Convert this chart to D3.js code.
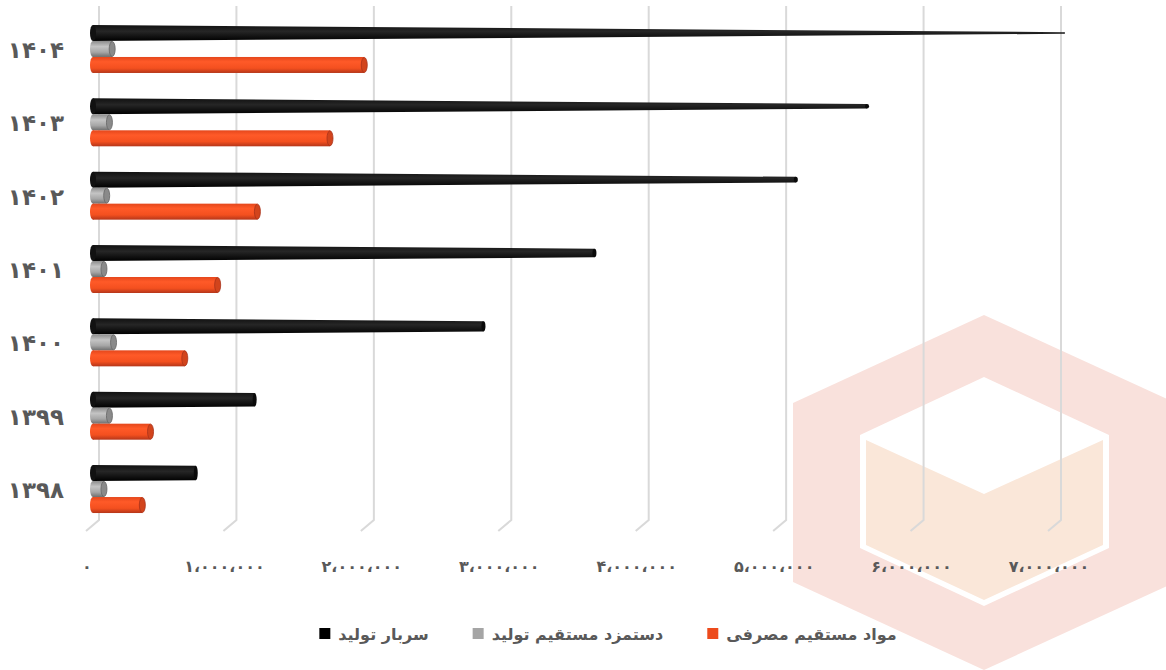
<!DOCTYPE html>
<html>
<head>
<meta charset="utf-8">
<script src="https://cdn.jsdelivr.net/npm/d3@7"></script>
<style>
  body { margin: 0; background: #fff; }
  svg { display: block; font-family: "DejaVu Sans", sans-serif; }
</style>
</head>
<body>
<svg width="1166" height="670"></svg>
<script>
var years = ["۱۴۰۴", "۱۴۰۳", "۱۴۰۲", "۱۴۰۱", "۱۴۰۰", "۱۳۹۹", "۱۳۹۸"];
var overhead = [7090000, 5650000, 5130000, 3660000, 2850000, 1180000, 750000];
var labor = [140000, 120000, 100000, 80000, 150000, 120000, 80000];
var material = [1980000, 1730000, 1200000, 910000, 670000, 420000, 360000];
var seriesNames = ["مواد مستقیم مصرفی", "دستمزد مستقیم تولید", "سربار تولید"];
var tickValues = [0, 1000000, 2000000, 3000000, 4000000, 5000000, 6000000, 7000000];
var tickLabels = ["۰", "۱،۰۰۰،۰۰۰", "۲،۰۰۰،۰۰۰", "۳،۰۰۰،۰۰۰", "۴،۰۰۰،۰۰۰", "۵،۰۰۰،۰۰۰", "۶،۰۰۰،۰۰۰", "۷،۰۰۰،۰۰۰"];

var svg = d3.select("svg"),
  width = +svg.attr("width"),
  height = +svg.attr("height");

var gridX = d3.scaleLinear().domain([0, 7000000]).range([99, 1061]);
var barX = d3.scaleLinear().domain([0, 7000000]).range([93, 1052]);
var y = d3.scaleBand().domain(years).range([12.3, 525.7]);
var barH = 16;

// gradients
var defs = svg.append("defs");
function vGrad(id, stops) {
  var g = defs.append("linearGradient").attr("id", id)
    .attr("x1", 0).attr("y1", 0).attr("x2", 0).attr("y2", 1);
  stops.forEach(function (s) {
    g.append("stop").attr("offset", s[0]).attr("stop-color", s[1]);
  });
}
vGrad("gOrange", [[0, "#e4471c"], [0.3, "#ff5a28"], [0.7, "#f4501f"], [1, "#b5361a"]]);
vGrad("gGray", [[0, "#8c8c8c"], [0.35, "#c4c4c4"], [0.7, "#a6a6a6"], [1, "#6e6e6e"]]);
vGrad("gBlack", [[0, "#111"], [0.4, "#262626"], [1, "#000"]]);

// watermark logo behind the chart
var logo = svg.append("g").attr("class", "logo");
logo.append("polygon")
  .attr("points", "984,315 1176,403 1176,582 984,670 793,582 793,403")
  .attr("fill", "#f9e1dc");
logo.append("polygon")
  .attr("points", "984,377 1109,435 1109,548 984,606 860,548 860,435")
  .attr("fill", "#fff");
logo.append("polygon")
  .attr("points", "866,440 984,494 1103,440 1103,545 984,600 866,545")
  .attr("fill", "#fae7d9");

// gridlines with the bent floor foot
svg.append("g")
  .selectAll("path")
  .data(tickValues)
  .enter()
  .append("path")
  .attr("d", function (d) {
    var x = gridX(d);
    return "M" + x + ",6V520L" + (x - 13) + ",531";
  })
  .attr("fill", "none")
  .attr("stroke", "#d9d9d9")
  .attr("stroke-width", 2);

// x labels
svg.append("g")
  .selectAll("text")
  .data(tickValues)
  .enter()
  .append("text")
  .attr("x", function (d) { return gridX(d) - 12; })
  .attr("y", 572)
  .attr("text-anchor", "middle")
  .attr("direction", "ltr")
  .style("font-size", "16px")
  .style("font-weight", "bold")
  .style("fill", "#595959")
  .text(function (d, i) { return tickLabels[i]; });

// y labels
svg.append("g")
  .selectAll("text")
  .data(years)
  .enter()
  .append("text")
  .attr("x", 64)
  .attr("y", function (d) { return y(d) + y.bandwidth() / 2 + 9; })
  .attr("text-anchor", "end")
  .attr("direction", "ltr")
  .style("font-size", "23px")
  .style("font-weight", "bold")
  .style("fill", "#595959")
  .text(function (d) { return d; });

var x0 = barX(0);

// black cones (overhead), tapering toward the max
var coneLen = 1080;
var cones = svg.append("g").selectAll("g")
  .data(years)
  .enter()
  .append("g");
cones.append("path")
  .attr("d", function (d, i) {
    var yc = y(d) + y.bandwidth() / 2 - 16;
    var xe = barX(overhead[i]);
    var t = Math.max(1.2, barH * (1 - (xe - x0) / coneLen));
    return "M" + x0 + "," + (yc - barH / 2) +
      "L" + xe + "," + (yc - t / 2) +
      "L" + xe + "," + (yc + t / 2) +
      "L" + x0 + "," + (yc + barH / 2) + "Z";
  })
  .attr("fill", "url(#gBlack)");
cones.append("ellipse")
  .attr("cx", function (d, i) {
    var xe = barX(overhead[i]);
    return xe;
  })
  .attr("cy", function (d) { return y(d) + y.bandwidth() / 2 - 16; })
  .attr("rx", function (d, i) { return i === 0 ? 0.6 : 2; })
  .attr("ry", function (d, i) {
    var xe = barX(overhead[i]);
    return Math.max(0.6, barH * (1 - (xe - x0) / coneLen)) / 2;
  })
  .attr("fill", "#0a0a0a");
cones.append("ellipse")
  .attr("cx", x0)
  .attr("cy", function (d) { return y(d) + y.bandwidth() / 2 - 16; })
  .attr("rx", 3)
  .attr("ry", barH / 2)
  .attr("fill", "#111");

// cylinders for labor and material
function cylinders(values, offset, grad, cap, capStroke) {
  var g = svg.append("g").selectAll("g")
    .data(years)
    .enter()
    .append("g");
  g.append("ellipse")
    .attr("cx", x0)
    .attr("cy", function (d) { return y(d) + y.bandwidth() / 2 + offset; })
    .attr("rx", 3)
    .attr("ry", barH / 2)
    .attr("fill", grad);
  g.append("rect")
    .attr("x", x0)
    .attr("y", function (d) { return y(d) + y.bandwidth() / 2 + offset - barH / 2; })
    .attr("width", function (d, i) { return barX(values[i]) - x0; })
    .attr("height", barH)
    .attr("fill", grad);
  g.append("ellipse")
    .attr("cx", function (d, i) { return barX(values[i]); })
    .attr("cy", function (d) { return y(d) + y.bandwidth() / 2 + offset; })
    .attr("rx", 3)
    .attr("ry", barH / 2 - 0.5)
    .attr("fill", cap)
    .attr("stroke", capStroke)
    .attr("stroke-width", 0.8);
}
cylinders(labor, 0, "url(#gGray)", "#8a8a8a", "#666");
cylinders(material, 16, "url(#gOrange)", "#d2441c", "#a8321a");

// legend, items laid out left to right and centred
var legendItems = [
  { name: seriesNames[2], color: "#000" },
  { name: seriesNames[1], color: "#a5a5a5" },
  { name: seriesNames[0], color: "#ed4b1c" }
];
var legend = svg.append("g");
var items = legend.selectAll("g")
  .data(legendItems)
  .enter()
  .append("g");
items.append("rect")
  .attr("width", 11)
  .attr("height", 11)
  .attr("y", 628)
  .attr("fill", function (d) { return d.color; });
items.append("text")
  .attr("x", 19)
  .attr("y", 640)
  .style("font-size", "16px")
  .style("font-weight", "bold")
  .style("fill", "#595959")
  .text(function (d) { return d.name; });

var widths = [];
items.each(function () {
  widths.push(19 + d3.select(this).select("text").node().getComputedTextLength());
});
var gap = 44;
var total = d3.sum(widths) + gap * (widths.length - 1);
var cursor = 608 - total / 2;
items.attr("transform", function (d, i) {
  var t = "translate(" + cursor + ",0)";
  cursor += widths[i] + gap;
  return t;
});
</script>
</body>
</html>
